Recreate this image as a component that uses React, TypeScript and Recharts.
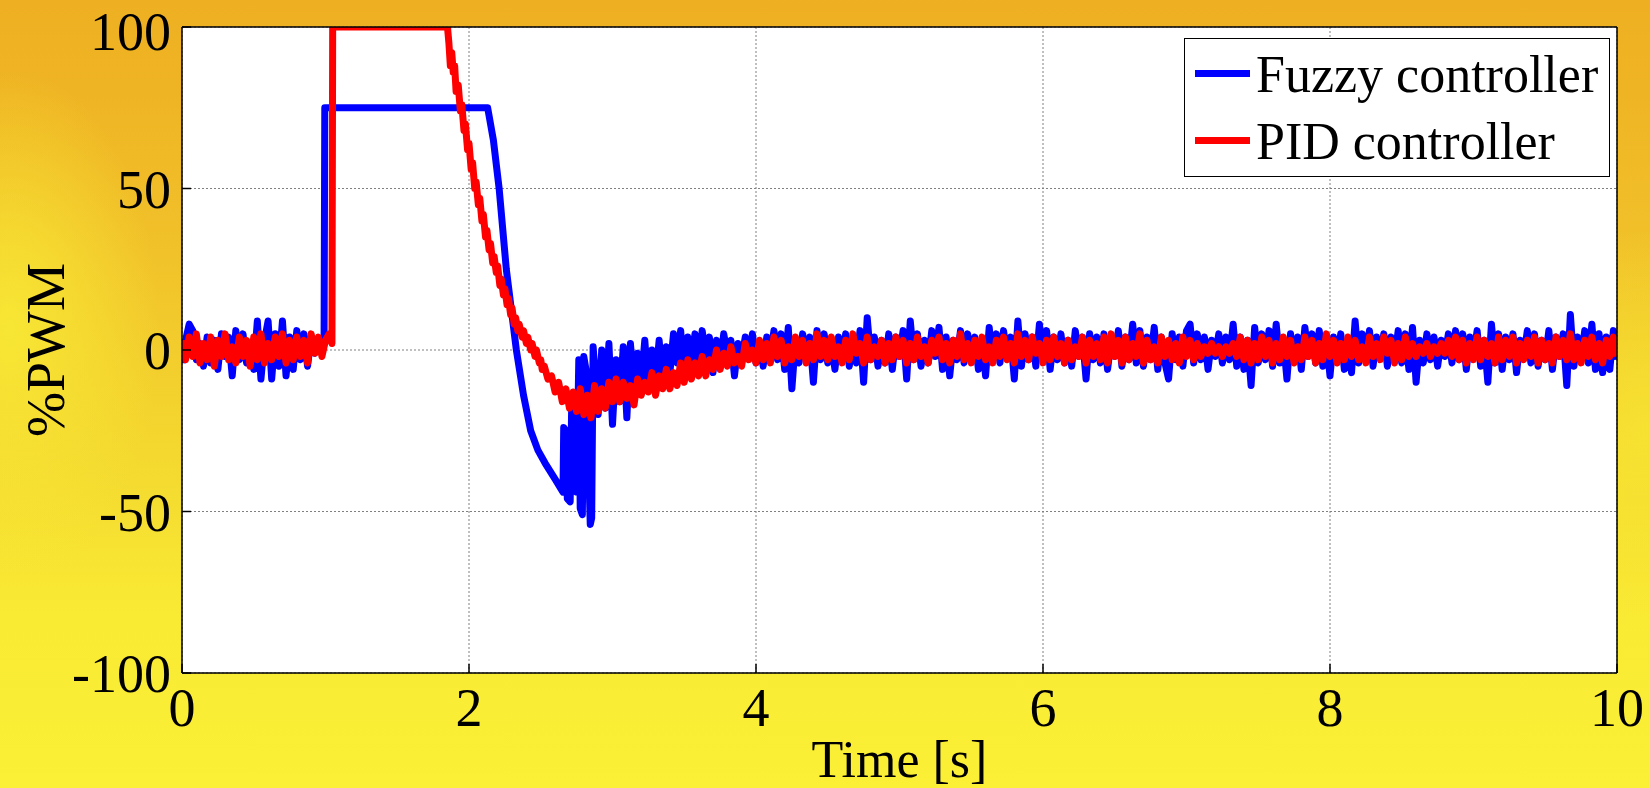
import { CartesianGrid, Legend, Line, LineChart, XAxis, YAxis } from 'recharts'

const W = 1650
const H = 788
const FONT = "'Liberation Serif', 'Times New Roman', serif"

const X_TICKS = [0, 2, 4, 6, 8, 10]
const Y_TICKS = [-100, -50, 0, 50, 100]

// sample spacing of the noisy stretches (s)
const DT = 0.025

// Fuzzy controller, 0 … 0.975 s
const FUZZY_PRE = [
  -4, 3, 8, 6, -3, 2, -5, 4, -4, 3,
  -6, 5, -2, 4, -8, 6, -3, 5, -4, 2,
  -6, 9, -9, 3, 9, -9, 5, -5, 9, -8,
  4, -6, 6, -3, 5, -5, 4, -1, 3, 1,
]
// step to 75 %, release at 2.13 s, undershoot and chattering, [t, value]
const FUZZY_STEP: [number, number][] = [
  [0.99, 2], [0.995, 75], [2.13, 75], [2.17, 65], [2.21, 50], [2.26, 25],
  [2.33, 0], [2.38, -14], [2.43, -25], [2.48, -31], [2.53, -35], [2.6, -40],
  [2.655, -44], [2.66, -24], [2.675, -25], [2.685, -46], [2.705, -47],
  [2.715, -19], [2.73, -20], [2.75, -44], [2.765, -3], [2.775, -49],
  [2.79, -51], [2.8, -2], [2.815, -6], [2.83, -30], [2.845, -54],
  [2.855, -52], [2.865, 1], [2.88, -8],
]
// Fuzzy controller, 2.9 … 10 s
const FUZZY_POST = [
  -20, 0, -18, 2, -23, -3, -16, 1, -21, 2, -12, -1, -10, 3, -12, 0, -9, 3, -10, 1,
  -7, 5, -4, 6, -8, 4, -3, 5, -6, 6, -2, 4, -7, 3, -5, 5, -1, 3, -8, 2,
  -3, 4, -1, 5, -4, 2, -5, 4, -2, 6, -3, 5, -6, 7, -12, 3, -4, 5, -2, 4,
  -10, 6, -3, 5, -4, 2, -6, 4, -2, 5, -5, 3, -4, 6, -10, 10, -3, 4, -5, 3,
  -4, 5, -6, 4, -2, 6, -9, 9, -3, 5, -5, 3, -4, 6, -2, 7, -6, 4, -8, 3,
  -3, 6, -4, 5, -2, 4, -6, 3, -8, 7, -3, 5, -4, 6, -2, 4, -9, 9, -5, 5,
  -3, 4, -5, 8, -2, 6, -6, 4, -3, 5, -4, 3, -5, 6, -2, 4, -9, 5, -3, 4,
  -4, 5, -6, 3, -2, 6, -5, 4, -3, 8, -4, 6, -5, 4, -3, 7, -6, 4, -4, -9,
  5, -3, 4, -5, 6, 8, -4, 5, -3, 4, -6, 3, -2, 5, -4, 4, -3, 8, -5, 4,
  -6, 3, -11, 7, -4, 5, -3, 6, -5, 8, -4, 3, -9, 5, -3, 4, -6, 7, -2, 5,
  -4, 6, -5, 3, -8, 4, -3, 5, -6, 2, -7, 9, -4, 5, -3, 6, -5, 4, -2, 5,
  -5, 4, -3, 6, -4, 5, -6, 7, -10, 3, -4, 5, -3, 4, -5, 3, -2, 5, -4, 6,
  -3, 5, -6, 4, -2, 6, -5, 3, -10, 8, -4, 5, -6, 4, -3, 5, -7, 3, -2, 6,
  -4, 5, -5, 3, -3, 6, -6, 4, -2, 5, -11, 11, -5, 4, -3, 6, -4, 8, -6, 5,
  -7, 4, -6, 6, -3,
]

// PID controller, 0 … 1.025 s
const PID_PRE = [
  3, -3, 4, -2, 5, -4, 2, -3, 4, -5, 3, -2, 5, -3, 1, -4, 4, -2, 3, -5,
  4, -3, 5, -4, 2, -3, 4, -2, 5, -4, 3, -3, 4, -2, 3, -4, 5, -1, 4, -2,
  3, 5,
]
// saturation at 100 % and the stepped decay, [t, value]
const PID_STEP: [number, number][] = [
  [1.045, 2], [1.05, 100], [1.85, 100], [1.86, 95], [1.87, 88], [1.88, 92],
  [1.89, 86], [1.9, 88], [1.91, 80], [1.925, 82], [1.94, 74], [1.95, 76],
  [1.965, 68], [1.975, 70], [1.99, 62], [2.0, 64], [2.015, 56], [2.025, 58],
  [2.04, 50], [2.05, 52], [2.065, 45], [2.075, 47], [2.09, 40], [2.1, 42],
  [2.115, 35], [2.125, 37], [2.14, 31], [2.15, 33], [2.165, 27], [2.175, 29],
  [2.19, 24], [2.2, 26], [2.215, 20], [2.225, 22], [2.24, 17], [2.25, 19],
  [2.265, 14], [2.275, 16], [2.29, 11], [2.3, 13], [2.315, 8], [2.325, 10],
  [2.34, 6], [2.35, 8], [2.37, 4], [2.38, 6], [2.4, 2], [2.41, 4],
  [2.43, 0], [2.44, 2], [2.46, -2], [2.47, 0], [2.49, -4], [2.5, -3],
  [2.51, -6],
]
// PID controller, 2.525 … 10 s
const PID_POST = [
  -5, -9, -8, -13, -10, -16, -12, -18, -13, -19, -12, -20, -14, -21, -11, -19, -12, -18, -10, -16,
  -9, -16, -10, -15, -11, -17, -9, -14, -10, -13, -7, -14, -8, -12, -6, -12, -7, -11, -4, -10,
  -3, -9, -4, -8, -2, -8, -3, -6, 0, -6, -1, -5, 1, -4, -2, -5, 2, -3, 0, -4,
  3, -3, 2, -4, 4, -2, 3, -4, 1, -3, 4, -2, 3, -4, 2, -3, 5, -2, 3, -3,
  4, -2, 1, -4, 3, -3, 5, -1, 2, -4, 4, -3, 1, -2, 3, -4, 2, -3, 4, -2,
  3, -4, 2, -3, 4, -2, 1, -4, 3, -1, 4, -3, 2, -4, 3, -2, 5, -3, 2, -4,
  3, -2, 4, -3, 1, -4, 3, -2, 4, -3, 2, -4, 5, -2, 3, -3, 4, -1, 2, -4,
  3, -3, 4, -2, 2, -4, 3, -3, 1, -2, 4, -4, 3, -2, 2, -3, 4, -4, 5, -2,
  3, -4, 4, -3, 2, -2, 5, -4, 3, -3, 1, -4, 4, -2, 3, -3, 2, -4, 4, -2,
  3, -3, 2, -2, 1, -1, 2, -1, 1, -2, 1, -1, 2, -2, 4, -3, 3, -4, 2, -3,
  4, -2, 3, -4, 2, -3, 4, -2, 3, -4, 1, -3, 4, -2, 3, -4, 2, -3, 5, -2,
  3, -4, 2, -3, 4, -2, 3, -3, 1, -4, 4, -2, 2, -3, 4, -1, 3, -4, 2, -3,
  4, -2, 2, -2, 1, -1, 2, -2, 1, -1, 2, -1, 3, -2, 4, -3, 3, -4, 2, -3,
  4, -3, 3, -2, 2, -4, 4, -3, 3, -2, 4, -4, 2, -3, 3, -2, 4, -4, 3, -3,
  2, -4, 4, -2, 3, -3, 5, -3, 2, -4, 3, -2, 4, -3, 2, -4, 3, -2, 4, -2,
]

type Pt = { t: number; v: number }

function buildSeries(
  pre: number[],
  step: [number, number][],
  post: number[],
  postStart: number
): Pt[] {
  const pts: Pt[] = pre.map((v, i) => ({ t: +(i * DT).toFixed(3), v }))
  step.forEach(([t, v]) => pts.push({ t, v }))
  post.forEach((v, i) => pts.push({ t: +(postStart + i * DT).toFixed(3), v }))
  return pts
}

const fuzzyData = buildSeries(FUZZY_PRE, FUZZY_STEP, FUZZY_POST, 2.9)
const pidData = buildSeries(PID_PRE, PID_STEP, PID_POST, 2.525)

const tickStyle = { fontSize: 54, fontFamily: FONT, fill: '#000' }

function renderLegend(props: any) {
  const items = props.payload ?? []
  return (
    <div
      style={{
        boxSizing: 'border-box',
        width: 426,
        height: 139,
        background: '#fff',
        border: '1.5px solid #000',
        paddingTop: 2,
      }}
    >
      {items.map((item: any) => (
        <div key={item.value} style={{ display: 'flex', alignItems: 'center', height: 67 }}>
          <span
            style={{ width: 55, height: 7, background: item.color, marginLeft: 10, marginRight: 6, marginTop: -3 }}
          />
          <span style={{ fontFamily: FONT, fontSize: 52, lineHeight: '67px', color: '#000' }}>
            {item.value}
          </span>
        </div>
      ))}
    </div>
  )
}

export default function App() {
  return (
    <div
      style={{
        position: 'absolute',
        left: 0,
        top: 0,
        width: W,
        height: H,
        backgroundColor: '#f3cc2c',
        backgroundImage: [
          'radial-gradient(ellipse 150px 260px at 10px 330px, rgba(248,232,52,0.95), rgba(248,232,52,0))',
          'radial-gradient(ellipse 200px 200px at 1650px 430px, rgba(248,230,50,0.7), rgba(248,230,50,0))',
          'linear-gradient(180deg, #eeb022 0%, #efb424 12%, #f1c22a 32%, #f4d82f 58%, #f9ea34 78%, #fbf036 100%)',
        ].join(', '),
      }}
    >
      <LineChart width={W} height={H} margin={{ top: 26, right: 32, bottom: 15, left: 12 }}>
        <CartesianGrid fill="#fff" stroke="#808080" strokeDasharray="2 2" strokeWidth={1} />
        <XAxis
          dataKey="t"
          type="number"
          domain={[0, 10]}
          ticks={X_TICKS}
          allowDataOverflow
          height={100}
          axisLine={{ stroke: '#000', strokeWidth: 1.5 }}
          tickLine={{ stroke: '#000', strokeWidth: 1.5 }}
          tickSize={-9}
          tickMargin={24}
          tick={tickStyle}
          label={{
            content: (p: any) => (
              <text
                x={p.viewBox.x + p.viewBox.width / 2}
                y={p.viewBox.y + 104}
                textAnchor="middle"
                fontFamily={FONT}
                fontSize={52}
                fill="#000"
              >
                Time [s]
              </text>
            ),
          }}
        />
        <XAxis
          xAxisId="top"
          orientation="top"
          type="number"
          domain={[0, 10]}
          ticks={X_TICKS}
          height={1}
          axisLine={{ stroke: '#000', strokeWidth: 1.5 }}
          tickLine={{ stroke: '#000', strokeWidth: 1.5 }}
          tickSize={-9}
          tick={false}
        />
        <YAxis
          type="number"
          domain={[-100, 100]}
          ticks={Y_TICKS}
          allowDataOverflow
          width={170}
          axisLine={{ stroke: '#000', strokeWidth: 1.5 }}
          tickLine={{ stroke: '#000', strokeWidth: 1.5 }}
          tickSize={-9}
          tickMargin={20}
          tick={tickStyle}
          label={{
            content: (p: any) => {
              const x = 64
              const y = p.viewBox.y + p.viewBox.height / 2
              return (
                <text
                  x={x}
                  y={y}
                  transform={`rotate(-90 ${x} ${y})`}
                  textAnchor="middle"
                  fontFamily={FONT}
                  fontSize={54}
                  fill="#000"
                >
                  %PWM
                </text>
              )
            },
          }}
        />
        <YAxis
          yAxisId="right"
          orientation="right"
          type="number"
          domain={[-100, 100]}
          ticks={Y_TICKS}
          width={1}
          axisLine={{ stroke: '#000', strokeWidth: 1.5 }}
          tickLine={{ stroke: '#000', strokeWidth: 1.5 }}
          tickSize={-9}
          tick={false}
        />
        <Legend
          layout="horizontal"
          align="center"
          verticalAlign="middle"
          content={renderLegend}
          wrapperStyle={{ left: 1184, top: 38, width: 426, height: 139 }}
        />
        <Line
          data={fuzzyData}
          dataKey="v"
          name="Fuzzy controller"
          type="linear"
          stroke="#0000ff"
          strokeWidth={7}
          strokeLinejoin="round"
          dot={false}
          activeDot={false}
          isAnimationActive={false}
        />
        <Line
          data={pidData}
          dataKey="v"
          name="PID controller"
          type="linear"
          stroke="#ff0000"
          strokeWidth={7}
          strokeLinejoin="round"
          dot={false}
          activeDot={false}
          isAnimationActive={false}
        />
      </LineChart>
    </div>
  )
}
